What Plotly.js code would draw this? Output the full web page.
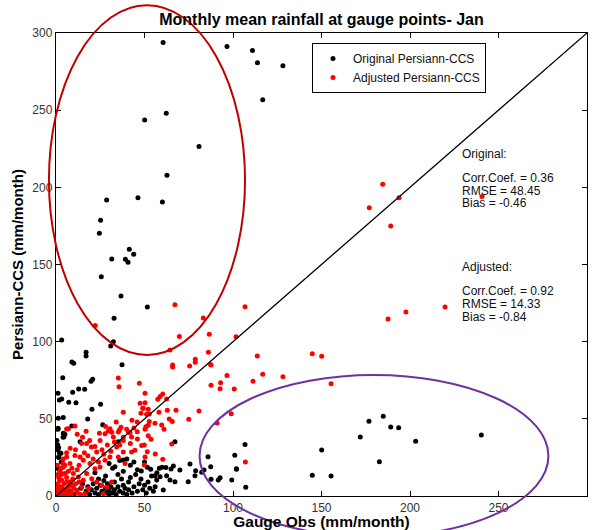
<!DOCTYPE html>
<html>
<head>
<meta charset="utf-8">
<script src="https://cdn.plot.ly/plotly-3.0.1.min.js"></script>
<style>html,body{margin:0;padding:0;background:#fff;}#chart{width:597px;height:530px;}</style>
</head>
<body>
<div id="chart"></div>
<script>
// ---- Data (mm/month) ----
const originalX = [
  60.5,96.6,111,113.8,128.2,116.8,62.3,50.1,80.8,62.7,28.6,46.3,60.1,25.2,24.5,41.4,43.9,31.5,39.2,40.7,25.6,36.7,51.6,32.8,
  3.2,32.4,30.9,17,17,9,10,37.3,3.8,20.7,19.8,1.1,12.8,16.2,9.4,1.9,3.2,7.2,11.3,25.2,20.3,4.1,17.9,26.4,8.9,1.1,
  106.8,101,85.9,101.9,107.2,150.1,144.8,155.4,171.9,176.8,184.9,189.1,193.6,203.2,182.7,240.3,
  67.2,75.7,87.4,83.6,82.3,78.9,78.5,74.7,66.3,65,62.1,59.9,58.4,53.5,51.6,48.2,70,62.5,67.2,64.4,58.8,55.9,56.9,92.7,91.7,87.6,99.3,102,60.6,
  1.3,1.2,4.1,4.5,0.6,1.5,0.4,2.8,1.6,13.6,35.2,
  17,18,19,20,21,22,23,24,25,26,27,28,28,29,30,30,31,32,33,33,34,35,36,37,38,38,39,40,41,41,42,43,44,45,46,47,48,49,50,51,52,53,54,55,56,57,
  46,42,38,35,32,28,24,22,12,14,10,8,15,44,40,36,50,30,33.3,37.9,
  0.5,1,0.8,2,1.5,3,0.5,2.5,4,5
];
const originalY = [
  293.8,291.2,288.6,280.8,278.7,256.8,248,243.7,226.4,207.8,191.8,193.3,190.5,178.7,170.3,159.9,156.6,153.6,153.4,151.5,142.1,129.6,122.5,115.2,
  101,100,97.2,93.1,90.7,86.8,86,85.1,76.7,75.6,74.3,66.6,69.3,69.2,67.2,62.2,62.9,60.7,60.5,59.4,56.2,50.8,49.9,46.2,45.4,43.2,
  33.3,26.4,25.5,17.7,5.6,29.8,13.4,13,38.2,48.4,51.6,44.7,44.3,35.4,22.2,39.5,
  35.2,20.7,19,16.9,15.4,16.4,13.2,9.3,19.4,17.5,18.4,18.6,18,17.3,18.6,16.2,16.9,13.2,9.3,10.4,12.5,13.2,10.4,11.9,10.4,10.8,10.4,17.3,3.9,
  50.3,43.9,40.6,38.4,32.5,31.3,30.2,27.7,25.6,35.2,35.2,
  3,6,1,4,8,2,5,1,7,3,10,2,5,8,1,4,6,2,9,4,1,6,3,11,2,7,5,1,9,4,12,2,6,14,3,8,11,4,7,2,9,5,13,3,6,15,
  17,20,16,14,18,13,11,15,2,5,1,3,8,22,24,23,22,21,19,23.3,
  36,33,30,28,25,22,18,15,38,40
];
const adjustedX = [
  184.6,193.8,177,189.1,240.7,219.8,187.6,197.7,67.2,83.2,106.8,22.2,
  144.8,150.1,155.4,128.2,116.8,113.7,111.3,100.7,96.6,93,92.7,87.6,87.4,86.1,86.6,101.7,78.7,78.7,75.5,69.7,65.9,65.9,80.8,75,99,91,107,64.4,87.6,
  35.2,35.6,47.1,50.3,47.5,49,52.1,51.2,38,42.9,45.9,10.7,6,24.5,29.5,31.5,35.8,36.7,39.9,41.8,45.9,50.3,52.1,
  60.3,58.8,57.5,62.5,50.3,49.3,48,52.7,58.2,62.9,67.8,64,65.7,52.7,55.9,50.8,59.7,61,
  52.1,53.7,49.9,65.4,51.6,56.1,60.3,49.9,
  7,14.5,17.3,20,23,24.9,27.7,30.5,32.4,35.2,38,40.9,42.7,44.6,48.4,50.3,42.7,38,34.3,35.2,39,30.5,27.7,24.9,22,19.2,15.4,13.6,10.7,7.9,6,4.1,5.1,3.2,2.3,6,8.9,11.7,14.5,15.4,12.6,9.8,17.3,20.2,23,25.8,18.3,16.4,26.7,28.6,31.4,
  0.5,1,1.5,2,2.5,3,3.5,4,4.5,5,5.5,6,6.5,7,7.5,8,8.5,9,9.5,10,1,1.5,2,0.8,1.2,3,4,1,2,0.5,11,12,13,14,3,7,5,9,12,6,8,4,11,13,16,18,21,26,29,33,36,31,27,24,22,19,15,12,17,28,34,38,42,46,44
];
const adjustedY = [
  202,193.3,186.8,175,194,122.5,114.7,119.2,124,115.4,122.7,110.4,
  92.2,90.5,72.8,77.3,78.9,90.7,74.3,69.3,78,73.4,69.5,71.7,85.1,93.1,104.8,103.2,88.6,86.7,84.3,103.3,84.9,83.6,55.1,49.7,53.3,47.3,22,94.6,84.9,
  76.5,70.8,73,66.6,60.1,56.8,56.2,53,54.2,49.1,48,45.4,43.4,40.6,42.1,41.3,42.8,44.5,43.2,41,41.7,43.2,45.8,
  66.1,64.4,62.7,62.9,60.5,56.8,53.6,53.1,54.2,55.5,55.5,49.9,48.2,48.2,47.1,44.9,46,43.2,
  39.1,36.7,33,33.7,28.7,27.2,23.8,20.1,
  43.6,34,34,31.7,28.5,36,40.4,43.6,38.2,41.5,36,41.5,38.2,29.6,32.8,25.3,28.5,28.5,31.7,25.3,21,25.3,23.1,18.8,17.7,21,23.1,25.3,26.3,21,25.3,18.8,14.5,10.2,5.8,9.1,6.9,3.7,5.8,10.2,12.3,14.5,14.5,11.2,9.1,6.9,4.8,1.5,1.5,5.8,9.1,
  1,3,0.5,2,4,1,6,2.5,8,1,4,12,2,6,0.5,9,3,1,11,5,8,12,16,20,14,18,21,6,10,4,8,2,9,1,14,16,20,18,17,28,31,24,30,20,28,26,24,30,33,35,33,29,27,22,32,36,38,40,42,45,48,38,34,37,44
];
const lineX = [0, 300];
const lineY = [0, 300];
const seriesNames = ["Original Persiann-CCS", "Adjusted Persiann-CCS"];
const tickVals = [0, 50, 100, 150, 200, 250, 300];
const statsOriginal = ["Original:", "Corr.Coef. = 0.36", "RMSE = 48.45", "Bias = -0.46"];
const statsAdjusted = ["Adjusted:", "Corr.Coef. = 0.92", "RMSE = 14.33", "Bias = -0.84"];

// ---- Highlight ellipses (data units) ----
const AX = 300;
const redEllipse = {x0: -4, x1: 106.8, y0: 91.4, y1: 318};
const purpleEllipse = {x0: 81.1, x1: 278.2, y0: -26.6, y1: 78.4};

const font = "Liberation Sans, Arial, sans-serif";

const traces = [
  {x: originalX, y: originalY, mode: "markers", type: "scatter", name: seriesNames[0],
   marker: {color: "#000000", size: 5}},
  {x: adjustedX, y: adjustedY, mode: "markers", type: "scatter", name: seriesNames[1],
   marker: {color: "#ff0000", size: 5}},
  {x: lineX, y: lineY, mode: "lines", type: "scatter", showlegend: false,
   line: {color: "#000000", width: 1.3}, hoverinfo: "skip"}
];

function ell(e, color) {
  return {type: "circle", xref: "paper", yref: "paper",
          x0: e.x0 / AX, x1: e.x1 / AX, y0: e.y0 / AX, y1: e.y1 / AX,
          line: {color: color, width: 2}, layer: "above"};
}

const annotations = [];
const yPx1 = [154, 178, 191, 203];
const yPx2 = [267, 291, 304, 317];
const plotTop = 33, plotH = 463;
statsOriginal.forEach((t, i) => annotations.push({text: t, xref: "paper", yref: "paper",
  x: (460 - 56) / 531, y: 1 - (yPx1[i] - plotTop) / plotH, xanchor: "left", yanchor: "middle",
  showarrow: false, font: {family: font, size: 12, color: "#111"}}));
statsAdjusted.forEach((t, i) => annotations.push({text: t, xref: "paper", yref: "paper",
  x: (460 - 56) / 531, y: 1 - (yPx2[i] - plotTop) / plotH, xanchor: "left", yanchor: "middle",
  showarrow: false, font: {family: font, size: 12, color: "#111"}}));

const axisCommon = {
  range: [0, 300], tickvals: tickVals, ticks: "inside", ticklen: 5, tickcolor: "#000",
  showline: true, linecolor: "#000", linewidth: 1.2, mirror: "ticks", showgrid: false, zeroline: false,
  tickfont: {family: font, size: 12, color: "#333"}, automargin: false
};

const layout = {
  width: 597, height: 530,
  margin: {l: 56, r: 10, t: 33, b: 34},
  paper_bgcolor: "#fff", plot_bgcolor: "#fff",
  title: {text: "<b>Monthly mean rainfall at gauge points- Jan</b>", x: 0.5385, xanchor: "center",
          y: 0.963, yanchor: "middle", font: {family: font, size: 16, color: "#000"}},
  xaxis: Object.assign({}, axisCommon, {title: {text: "<b>Gauge Obs (mm/month)</b>", standoff: 5,
          font: {family: font, size: 15.5, color: "#000"}}}),
  yaxis: Object.assign({}, axisCommon, {title: {text: "<b>Persiann-CCS (mm/month)</b>", standoff: 5,
          font: {family: font, size: 15, color: "#000"}}}),
  legend: {x: (312 - 56) / 531, y: 1 - (43 - 33) / 463, xanchor: "left", yanchor: "top",
           bgcolor: "#fff", bordercolor: "#000", borderwidth: 1,
           font: {family: font, size: 12, color: "#111"}},
  shapes: [ell(redEllipse, "#c00000"), ell(purpleEllipse, "#7030a0")],
  annotations: annotations,
  showlegend: true
};

Plotly.newPlot("chart", traces, layout, {displayModeBar: false, staticPlot: true});
</script>
</body>
</html>
